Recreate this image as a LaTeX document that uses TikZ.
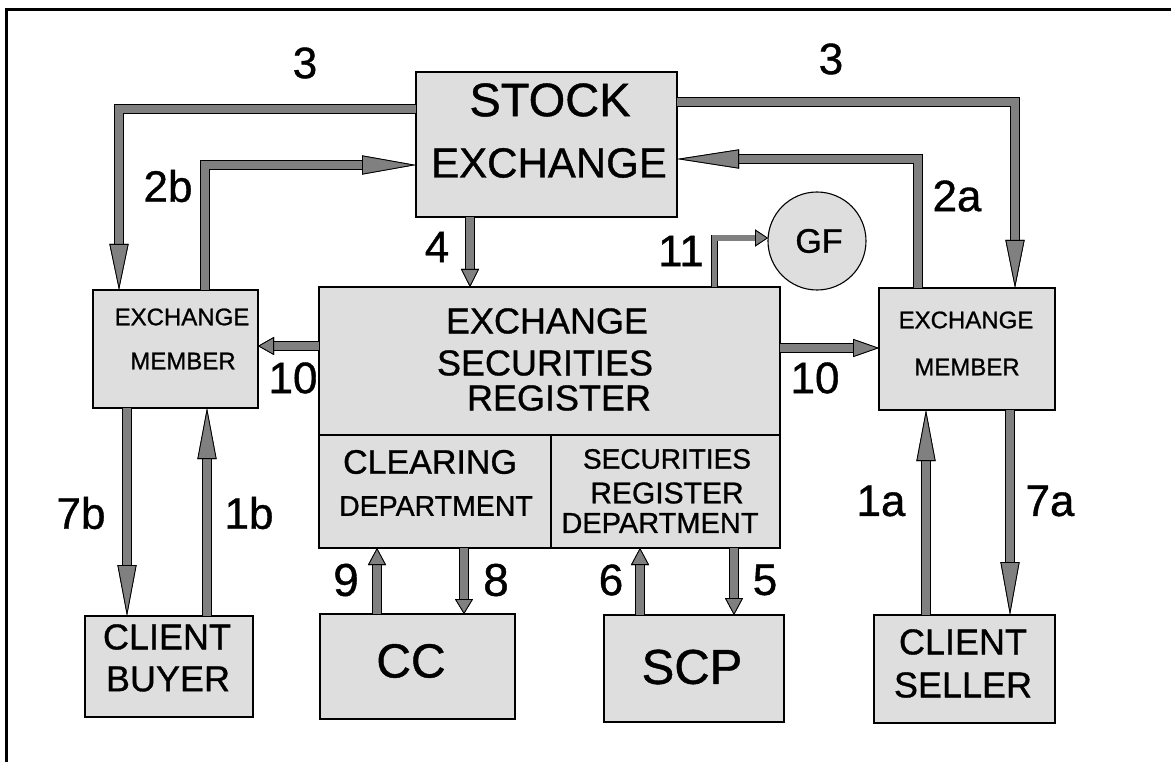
\documentclass[tikz,border=0pt]{standalone}
\usepackage{fontspec}
\setmainfont{Liberation Sans}[FakeBold=0.9]
\usetikzlibrary{arrows.meta}
\definecolor{boxgray}{RGB}{222,222,222}
\definecolor{arrowgray}{RGB}{128,128,128}
\tikzset{
  box/.style={draw=black, line width=1.1pt, fill=boxgray, inner sep=0pt, outer sep=0pt},
  txt/.style={inner sep=0pt, outer sep=0pt, font=\fontsize{#1pt}{#1pt}\selectfont},
  conn/.style={draw=arrowgray, line width=7.6pt, line join=miter, preaction={draw=black, line width=9.4pt}},
  thinconn/.style={draw=arrowgray, line width=5.2pt, line join=miter, preaction={draw=black, line width=6.6pt}},
  longtip/.style={-{Triangle[length=#1, width=19pt, line width=0.8pt, color=black, fill=arrowgray]}},
  longtip/.default=50pt,
  shorttip/.style={-{Triangle[length=#1, width=18pt, line width=0.8pt, color=black, fill=arrowgray]}},
  shorttip/.default=17pt,
  smalltip/.style={-{Triangle[length=13pt, width=17pt, line width=0.8pt, color=black, fill=arrowgray]}},
}
\begin{document}
\begin{tikzpicture}[x=1pt,y=-1pt]
\useasboundingbox (0,0) rectangle (1171,762);
\draw[line width=3pt] (6,762) -- (6,10) -- (1171,10);

% boxes
\node[box, minimum width=261pt, minimum height=145pt] (stock) at (546.5,144.5) {};
\node[box, minimum width=165pt, minimum height=118pt] (emL) at (175.5,349) {};
\node[box, minimum width=176pt, minimum height=122pt] (emR) at (967,349) {};
\node[box, minimum width=461pt, minimum height=261pt] (esr) at (549.5,417.5) {};
\coordinate (divY) at (0,435);
\coordinate (divX) at (551,0);
\draw[line width=1.1pt] (esr.west |- divY) -- (esr.east |- divY);
\draw[line width=1.1pt] (divX |- divY) -- (divX |- esr.south);
\node[box, minimum width=168pt, minimum height=101pt] (buyer) at (169,666.5) {};
\node[box, minimum width=195pt, minimum height=105pt] (cc) at (417.5,666.5) {};
\node[box, minimum width=180pt, minimum height=107pt] (scp) at (694,668.5) {};
\node[box, minimum width=181pt, minimum height=108pt] (seller) at (964.5,669) {};
\node[box, circle, minimum size=98pt] (gf) at (817,241) {};

% box texts
\node[txt=47] (tStock) at (550,100) {STOCK};
\node[txt=42] (tStockEx) at (549,163) {EXCHANGE};
\node[txt=36] (tEsr1) at (547,321) {EXCHANGE};
\node[txt=36] (tEsr2) at (545,363) {SECURITIES};
\node[txt=36] (tEsr3) at (559,398) {REGISTER};
\node[txt=34] (tClr1) at (430,462) {CLEARING};
\node[txt=28.5] (tClr2) at (436,506) {DEPARTMENT};
\node[txt=28] (tSrd1) at (667,459) {SECURITIES};
\node[txt=30] (tSrd2) at (667,493) {REGISTER};
\node[txt=29] (tSrd3) at (660,523) {DEPARTMENT};
\node[txt=24] (tEmL1) at (182,317) {EXCHANGE};
\node[txt=24] (tEmL2) at (183,361) {MEMBER};
\node[txt=24] (tEmR1) at (966,320) {EXCHANGE};
\node[txt=24] (tEmR2) at (967,367) {MEMBER};
\node[txt=36] (tBuy1) at (167,637) {CLIENT};
\node[txt=36] (tBuy2) at (168,679) {BUYER};
\node[txt=36] (tSel1) at (963,642) {CLIENT};
\node[txt=36] (tSel2) at (963,685) {SELLER};
\node[txt=48] (tCC) at (411,661) {CC};
\node[txt=49] (tSCP) at (692,667) {SCP};
\node[txt=34] (tGF) at (819,241) {GF};

% connector route coordinates
\coordinate (c3L) at (119,109);
\coordinate (c3R) at (1015,102);
\coordinate (c2b) at (205,165);
\coordinate (c2a) at (918,159);
\coordinate (c4) at (470,0);
\coordinate (c11) at (714.5,238);
\coordinate (c10L) at (0,346);
\coordinate (c10R) at (0,348);
\coordinate (c7b) at (127,0);
\coordinate (c1b) at (207,0);
\coordinate (c1a) at (926,0);
\coordinate (c7a) at (1010,0);
\coordinate (c9) at (377,0);
\coordinate (c8) at (464,0);
\coordinate (c6) at (640,0);
\coordinate (c5) at (734,0);

% connectors
\draw[conn, longtip=46pt] (c3L -| stock.west) -| (c3L |- emL.north);
\draw[conn, longtip=48pt] (c3R -| stock.east) -| (c3R |- emR.north);
\draw[conn, longtip=54pt] (c2b |- emL.north) |- (c2b -| stock.west);
\draw[conn, longtip=62pt] (c2a |- emR.north) |- (c2a -| stock.east);
\draw[conn, shorttip=18pt] (c4 |- stock.south) -- (c4 |- esr.north);
\draw[thinconn, smalltip] (c11 |- esr.north) |- (c11 -| gf.west);
\draw[conn, shorttip=16pt] (c10L -| esr.west) -- (c10L -| emL.east);
\draw[conn, shorttip=26pt] (c10R -| esr.east) -- (c10R -| emR.west);
\draw[conn, longtip=51pt] (c7b |- emL.south) -- (c7b |- buyer.north);
\draw[conn, longtip=51pt] (c1b |- buyer.north) -- (c1b |- emL.south);
\draw[conn, longtip=51pt] (c1a |- seller.north) -- (c1a |- emR.south);
\draw[conn, longtip=53pt] (c7a |- emR.south) -- (c7a |- seller.north);
\draw[conn, shorttip] (c9 |- cc.north) -- (c9 |- esr.south);
\draw[conn, shorttip=15pt] (c8 |- esr.south) -- (c8 |- cc.north);
\draw[conn, shorttip] (c6 |- scp.north) -- (c6 |- esr.south);
\draw[conn, shorttip] (c5 |- esr.south) -- (c5 |- scp.north);

% connector labels
\node[txt=44] (l3L) at (305,63) {3};
\node[txt=44] (l3R) at (831,59) {3};
\node[txt=44] (l2b) at (168,186) {2b};
\node[txt=44] (l2a) at (957,196) {2a};
\node[txt=44] (l4) at (437,247) {4};
\node[txt=44] (l11) at (681,251) {11};
\node[txt=44] (l10L) at (293,378) {10};
\node[txt=44] (l10R) at (815,378) {10};
\node[txt=44] (l7b) at (81,513) {7b};
\node[txt=44] (l1b) at (249,513) {1b};
\node[txt=44] (l1a) at (881,501) {1a};
\node[txt=44] (l7a) at (1050,501) {7a};
\node[txt=46] (l9) at (346,580) {9};
\node[txt=46] (l8) at (496,580) {8};
\node[txt=44] (l6) at (611,580) {6};
\node[txt=44] (l5) at (765,580) {5};
\end{tikzpicture}
\end{document}
